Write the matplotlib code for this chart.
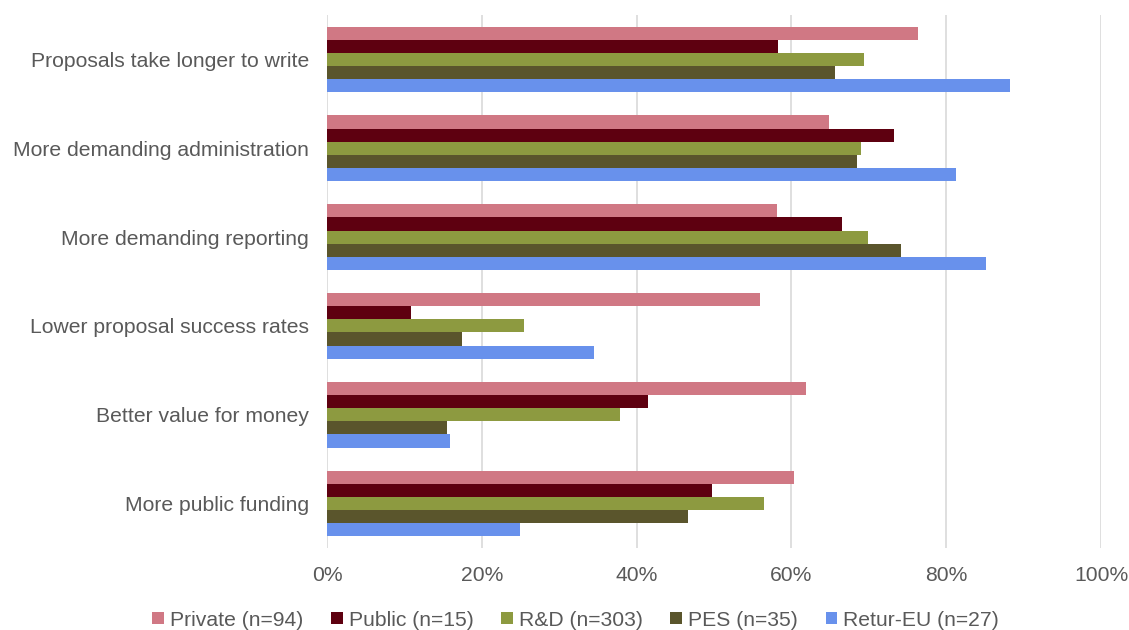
import matplotlib
matplotlib.use("Agg")
import matplotlib.pyplot as plt
import numpy as np
from matplotlib.ticker import PercentFormatter

plt.rcParams["font.family"] = ["Liberation Sans", "DejaVu Sans"]

categories = ["Proposals take longer to write", "More demanding administration",
              "More demanding reporting", "Lower proposal success rates",
              "Better value for money", "More public funding"]
series = ["Private (n=94)", "Public (n=15)", "R&D (n=303)", "PES (n=35)", "Retur-EU (n=27)"]
private = [76.3, 64.8, 58.1, 56.0, 61.9, 60.4]
public = [58.3, 73.2, 66.6, 10.9, 41.5, 49.8]
rnd = [69.4, 69.0, 69.9, 25.5, 37.8, 56.5]
pes = [65.6, 68.5, 74.2, 17.5, 15.5, 46.7]
retur = [88.3, 81.3, 85.1, 34.5, 15.9, 24.9]
colors = ["#D07884", "#5E0010", "#8D9A40", "#5A552C", "#6891EC"]

fig = plt.figure(figsize=(11.29, 6.3), dpi=100)
ax = fig.add_axes([327 / 1129, 1 - 548 / 630, 774 / 1129, 533 / 630])

y = np.arange(len(categories))
h = 0.148
for i, (vals, name, c) in enumerate(zip([private, public, rnd, pes, retur], series, colors)):
    ax.barh(y + (i - 2) * h, vals, height=h, color=c, label=name, zorder=3)

ax.set_xlim(0, 100)
ax.set_ylim(len(categories) - 0.5, -0.5)
ax.set_xticks(np.arange(0, 101, 20))
ax.xaxis.set_major_formatter(PercentFormatter(decimals=0))
ax.set_yticks(y)
ax.set_yticklabels(categories)
ax.grid(axis="x", color="#D9D9D9", linewidth=1.2, zorder=0)
for s in ax.spines.values():
    s.set_visible(False)
ax.tick_params(length=0, labelsize=15.2, colors="#595959", pad=13)
ax.tick_params(axis="x", pad=13)

fig.legend(loc="center", bbox_to_anchor=(0.51, 1 - 620 / 630), ncol=5, frameon=False,
           fontsize=15.2, handlelength=0.55, handleheight=0.55, handletextpad=0.3,
           columnspacing=1.3, labelcolor="#595959")

fig.savefig("out.png", dpi=100)
